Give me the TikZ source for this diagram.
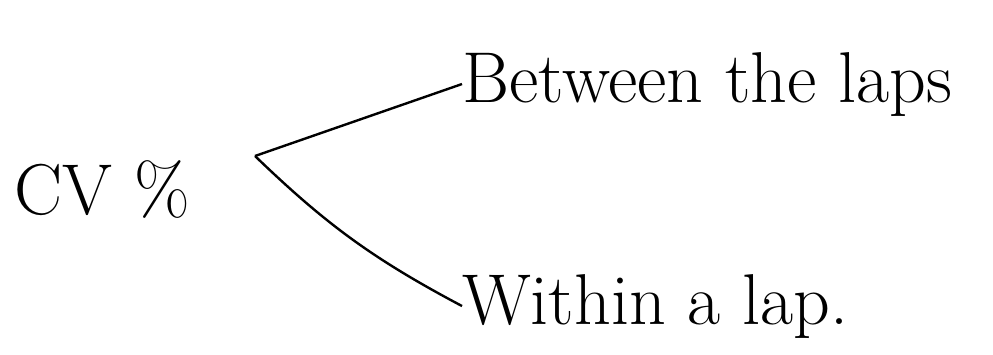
\documentclass[tikz,border=0pt]{standalone}
\usepackage{tikz}
\usetikzlibrary{positioning}

\begin{document}
\begin{tikzpicture}[
    x=1pt, y=-1pt,
    lbl/.style={inner sep=0pt, font=\fontsize{72}{76}\selectfont},
    branch/.style={line width=2.4pt, draw=black}
]
    \useasboundingbox (0,0) rectangle (993,354);
    \node[lbl] (cv) at (102,190) {CV \%};
    \coordinate (fork) at (255,156);
    \node[lbl, anchor=base west] (between) at (462,102) {Between the laps};
    \node[lbl, anchor=base west] (within) at (462,324) {Within a lap.};

    \draw[branch] (fork) -- (between.west);
    \draw[branch] (fork) to[bend right=8] (within.west);
\end{tikzpicture}
\end{document}
